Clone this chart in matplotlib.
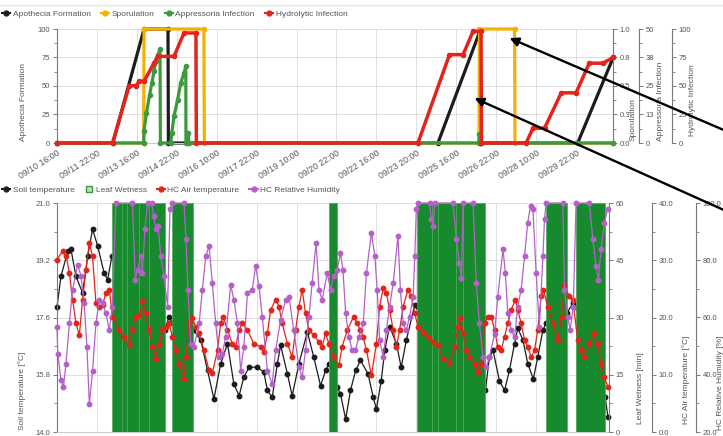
import matplotlib
matplotlib.use('Agg')
import matplotlib.pyplot as plt
from matplotlib.lines import Line2D
from matplotlib.patches import FancyArrowPatch
from matplotlib.ticker import MultipleLocator

plt.rcParams['font.family'] = ['Liberation Sans', 'DejaVu Sans']

# ---------------- data ----------------
time_labels = ['09/10 16:00', '09/11 22:00', '09/13 16:00', '09/14 22:00', '09/16 10:00',
               '09/17 22:00', '09/19 10:00', '09/20 22:00', '09/22 16:00', '09/23 20:00',
               '09/25 16:00', '09/26 22:00', '09/28 10:00', '09/29 22:00']

# top panel (x in tick intervals)
apo_t = [0.0, 1.40, 2.18, 2.78, 2.79, 9.54, 10.58, 10.63, 13.04, 13.93]
apo_v = [0, 0, 100, 100, 0, 0, 97, 0, 0, 75]

spor_t = [0.0, 2.17, 2.18, 3.68, 3.69, 10.57, 10.58, 11.46, 11.47, 13.93]
spor_v = [0, 0, 1, 1, 0, 0, 1, 1, 0, 0]

app_t = [0.0, 2.17, 2.18, 2.24, 2.32, 2.375, 2.43, 2.475, 2.53, 2.58, 2.59, 2.85, 2.875,
         2.93, 3.02, 3.1, 3.18, 3.225, 3.23, 3.28, 3.29, 3.30, 10.56, 10.58, 10.60, 13.93]
app_v = [0, 0, 5.4, 13.2, 21.2, 26.3, 31.4, 35.8, 38.7, 41.2, 0, 0, 4.4,
         11.7, 19.0, 26.3, 30.7, 33.6, 0, 0, 4.4, 0, 0, 4, 0, 0]

hyd_t = [0.0, 1.39, 1.81, 1.98, 2.06, 2.18, 2.43, 2.52, 2.93, 3.18, 3.48, 3.49, 9.04,
         9.83, 10.17, 10.42, 10.62, 10.63, 11.75, 11.92, 12.21, 12.63, 13.0, 13.33, 13.67, 13.93]
hyd_v = [0, 0, 50.3, 50.3, 54.1, 54.1, 70.2, 76.0, 76.0, 96.5, 96.5, 0, 0,
         77.5, 77.5, 98, 98, 0, 0, 13, 13, 44, 44, 70, 70, 75]

spor_ticks = ['0.0', '0.3', '0.5', '0.8', '1.0']
app_ticks = ['0', '13', '25', '38', '50']
pct_ticks = ['0', '25', '50', '75', '100']

# bottom panel
soil_t = [0.0, 0.10, 0.27, 0.35, 0.475, 0.64, 0.77, 0.89, 1.02, 1.18, 1.27, 1.375,
          2.7, 2.81, 2.89,
          3.41, 3.6, 3.77, 3.93, 4.1, 4.27, 4.43, 4.56, 4.68, 4.81,
          5.02, 5.18, 5.27, 5.39, 5.52, 5.6, 5.77, 5.89, 6.06, 6.27,
          6.43, 6.6, 6.73, 6.81, 7.02, 7.1, 7.23, 7.35, 7.48, 7.6,
          7.79, 7.92, 8.0, 8.12, 8.21, 8.33, 8.5, 8.62, 8.75, 8.96, 9.03,
          10.73, 10.83, 10.92, 11.08, 11.21, 11.33, 11.46, 11.54, 11.67, 11.79,
          11.93, 12.04, 12.17, 12.25,
          12.77, 12.92, 13.0,
          13.73, 13.8]
soil_v = [17.83, 18.76, 19.53, 19.58, 18.76, 18.25, 19.38, 20.20, 19.68, 18.86, 18.66, 19.38,
          17.12, 17.53, 17.32,
          17.12, 16.81, 15.88, 15.01, 16.09, 16.70, 15.47, 15.11, 15.68, 15.98,
          15.98, 15.83, 15.27, 15.06, 16.09, 16.65, 15.78, 15.11, 16.09, 17.06,
          16.29, 15.42, 15.88, 16.09, 15.37, 15.16, 14.39, 15.27, 15.88, 16.19,
          15.78, 15.06, 14.70, 15.57, 16.50, 17.22, 16.70, 15.98, 16.81, 17.89, 17.83,
          15.27, 16.29, 16.50, 15.57, 15.27, 15.88, 16.70, 17.17, 16.81, 16.09,
          15.62, 16.29, 17.12, 17.32,
          17.63, 17.94, 17.83,
          15.06, 14.45]

air_t = [0.0, 0.14, 0.23, 0.31, 0.39, 0.475, 0.56, 0.64, 0.725, 0.81,
         0.89, 0.975, 1.06, 1.14, 1.225, 1.31, 1.39, 1.56, 1.68, 1.81,
         1.89, 1.975, 2.06, 2.14, 2.225, 2.31, 2.39, 2.475, 2.56, 2.64,
         2.725, 2.81, 2.89, 2.975, 3.06, 3.17, 3.225, 3.31, 3.39, 3.475,
         3.56, 3.68, 3.81, 3.89, 4.02, 4.1, 4.16, 4.27, 4.39, 4.475,
         4.56, 4.64, 4.77, 4.93, 5.1, 5.18, 5.27, 5.35, 5.475, 5.56,
         5.64, 5.77, 5.89, 5.975, 6.06, 6.14, 6.225, 6.31, 6.43, 6.56,
         6.64, 6.725, 6.81, 6.93, 7.06, 7.14, 7.27, 7.43, 7.52, 7.6,
         7.67, 7.75, 7.875, 8.0, 8.08, 8.17, 8.25, 8.33, 8.42, 8.5,
         8.58, 8.67, 8.79, 8.875, 8.96, 9.04, 9.17, 9.29, 9.42, 9.54,
         9.67, 9.83, 9.96, 10.04, 10.1, 10.17, 10.25, 10.33, 10.46, 10.54,
         10.625, 10.71, 10.79, 10.875, 10.96, 11.04, 11.125, 11.21, 11.29, 11.375,
         11.48, 11.54, 11.625, 11.71, 11.79, 11.875, 11.96, 12.04, 12.125, 12.18,
         12.29, 12.42, 12.54, 12.64, 12.71, 12.83, 12.92, 13.04, 13.125, 13.21,
         13.33, 13.44, 13.54, 13.625, 13.71, 13.8]
air_v = [30.13, 31.6, 30.72, 27.79, 23.09, 18.98, 16.92, 23.09, 28.37, 33.07,
         30.72, 22.5, 21.91, 22.2, 24.26, 24.85, 20.15, 17.8, 16.63, 15.16,
         17.8, 20.15, 20.45, 22.8, 20.74, 17.8, 14.87, 12.81, 15.45, 17.8,
         18.39, 18.98, 16.63, 14.28, 11.93, 9.29, 13.1, 18.98, 19.86, 18.39,
         17.22, 14.28, 10.76, 10.29, 14.28, 18.98, 20.15, 17.8, 15.45, 14.87,
         17.8, 18.98, 17.8, 15.45, 14.87, 13.99, 17.22, 21.33, 23.09, 21.91,
         18.98, 15.45, 13.1, 17.8, 21.91, 24.85, 20.74, 17.8, 16.92, 15.75,
         14.87, 17.22, 15.45, 13.1, 11.64, 14.87, 17.8, 20.15, 18.98, 17.8,
         16.63, 14.28, 9.88, 15.45, 21.91, 25.14, 24.26, 21.33, 17.8, 14.87,
         17.8, 21.91, 24.85, 23.68, 20.74, 18.39, 17.51, 16.63, 15.75, 15.16,
         12.81, 12.05, 14.87, 18.39, 19.86, 17.22, 14.28, 13.1, 11.93, 10.46,
         11.93, 18.98, 20.15, 20.15, 17.8, 14.87, 14.28, 16.63, 18.98, 21.33,
         23.09, 21.33, 18.98, 16.04, 14.87, 13.1, 14.28, 17.8, 23.68, 24.85,
         21.91, 18.98, 16.04, 20.15, 25.73, 23.68, 23.09, 16.04, 14.28, 13.1,
         15.45, 17.22, 15.45, 11.93, 9.58, 7.82]

rh_t = [0.0, 0.02, 0.1, 0.16, 0.225, 0.31, 0.39, 0.52, 0.6, 0.68,
        0.75, 0.81, 0.89, 0.975, 1.06, 1.14, 1.225, 1.31, 1.39, 1.475,
        1.89, 1.96, 2.02, 2.1, 2.14, 2.2, 2.27, 2.37, 2.42, 2.475,
        2.53, 2.6, 2.68, 2.77, 2.83, 2.89, 3.18, 3.23, 3.28, 3.35,
        3.43, 3.56, 3.64, 3.725, 3.81, 3.89, 3.975, 4.06, 4.14, 4.225,
        4.35, 4.43, 4.52, 4.6, 4.68, 4.77, 4.89, 4.975, 5.06, 5.14,
        5.27, 5.39, 5.475, 5.6, 5.725, 5.81, 5.93, 6.06, 6.14, 6.225,
        6.31, 6.39, 6.49, 6.56, 6.64, 6.77, 6.85, 6.93, 7.02, 7.1,
        7.16, 7.23, 7.31, 7.39, 7.475, 7.56, 7.67, 7.75, 7.875, 7.96,
        8.02, 8.08, 8.17, 8.25, 8.33, 8.42, 8.54, 8.6, 8.67, 8.75,
        8.83, 8.92, 8.96, 9.0, 9.04, 9.33, 9.375, 9.42, 9.46, 9.92,
        10.0, 10.08, 10.13, 10.17, 10.42, 10.5, 10.58, 10.67, 10.75, 10.83,
        10.96, 11.04, 11.17, 11.23, 11.29, 11.375, 11.46, 11.54, 11.625, 11.71,
        11.79, 11.86, 11.92, 12.0, 12.08, 12.17, 12.21, 12.25, 12.67, 12.71,
        12.79, 12.85, 12.93, 13.0, 13.33, 13.42, 13.5, 13.56, 13.625, 13.71,
        13.79]
rh_v = [56.76, 47.4, 38.0, 35.6, 43.83, 57.93, 69.68, 78.5, 74.38, 64.98,
        49.7, 29.73, 41.48, 57.93, 66.16, 64.98, 61.46, 55.58, 63.81, 100,
        100, 73.2, 76.7, 81.4, 75.56, 90.83, 100, 100, 95.5, 90.83,
        92.0, 81.4, 74.38, 63.81, 97.88, 100, 100, 87.3, 69.7, 50.9,
        49.7, 57.93, 69.68, 81.43, 84.96, 72.03, 57.93, 46.18, 47.35, 53.23,
        71.45, 66.16, 57.93, 41.48, 49.7, 68.5, 69.68, 77.9, 70.86, 60.28,
        41.48, 36.78, 48.53, 59.11, 66.16, 67.33, 55.58, 42.66, 39.13, 48.53,
        60.28, 72.03, 86.13, 69.68, 66.16, 75.56, 69.68, 74.38, 76.73, 82.6,
        76.73, 61.46, 53.23, 48.53, 48.53, 53.23, 57.93, 75.56, 89.66, 81.43,
        69.68, 52.06, 46.18, 55.58, 63.81, 72.03, 88.48, 69.68, 57.93, 55.58,
        60.28, 67.33, 81.43, 97.88, 100, 100, 94.36, 92.0, 100, 100,
        87.3, 79.08, 73.8, 100, 100, 72.03, 57.93, 46.18, 42.66, 46.18,
        54.41, 67.33, 83.78, 75.56, 61.46, 55.58, 53.23, 63.81, 69.68, 81.43,
        93.18, 99.06, 97.88, 75.56, 56.76, 81.43, 94.36, 100, 100, 69.68,
        60.28, 55.58, 63.81, 100, 100, 87.3, 77.9, 73.2, 83.78, 93.18,
        97.88]

wet_start = [1.375, 1.64, 1.75, 2.06, 2.31, 2.89, 6.81, 9.025, 9.38, 9.54, 10.0, 10.17, 12.25, 13.0]
wet_end = [1.64, 1.75, 2.06, 2.31, 2.7, 3.41, 7.02, 9.38, 9.54, 10.0, 10.17, 10.73, 12.77, 13.73]
wet_minutes = [60, 60, 60, 60, 60, 60, 60, 60, 60, 60, 60, 60, 60, 60]

soil_ticks = ['14.0', '15.8', '17.6', '19.2', '21.0']
wet_ticks = ['0', '15', '30', '45', '60']
air_ticks = ['0.0', '10.0', '20.0', '30.0', '40.0']
rh_ticks = ['20.0', '40.0', '60.0', '80.0', '100.0']

# ---------------- figure ----------------
W, H = 723, 436
fig = plt.figure(figsize=(W / 100, H / 100), dpi=100)
fig.patch.set_facecolor('white')
PT = 72 / 100

C_BLACK = '#1c1c1c'
C_ORANGE = '#f5b000'
C_GREEN = '#3c9a3c'
C_RED = '#e4231b'
C_PURPLE = '#b55fc9'
C_WET = '#178a2d'
C_AX = '#7a7a7a'
C_TXT = '#555555'


def rect(l, t, r, b):
    return [l / W, 1 - b / H, (r - l) / W, (b - t) / H]


def style_main(a):
    for s in ['top', 'right']:
        a.spines[s].set_visible(False)
    a.spines['left'].set_color(C_AX)
    a.spines['left'].set_linewidth(0.8)
    a.spines['bottom'].set_color('#cccccc')
    a.grid(True, color='#dedede', lw=0.7)
    a.set_axisbelow(True)
    a.tick_params(axis='y', which='major', length=3, width=0.7, color=C_AX,
                  labelsize=5.5, labelcolor=C_TXT, pad=2)
    a.tick_params(axis='y', which='minor', length=2, width=0.6, color=C_AX)


def style_right(a, offset_px):
    for s in ['left', 'top', 'bottom']:
        a.spines[s].set_visible(False)
    a.spines['right'].set_position(('outward', offset_px * PT))
    a.spines['right'].set_color(C_AX)
    a.spines['right'].set_linewidth(0.8)
    a.tick_params(axis='y', which='major', length=3, width=0.7, color=C_AX,
                  labelsize=5.5, labelcolor=C_TXT, pad=2)
    a.tick_params(axis='y', which='minor', length=2, width=0.6, color=C_AX)


def set_yt(a, lo, hi, labels):
    step = (hi - lo) / (len(labels) - 1)
    a.set_ylim(lo, hi)
    a.set_yticks([lo + i * step for i in range(len(labels))])
    a.set_yticklabels(labels)
    a.yaxis.set_minor_locator(MultipleLocator(step / 2))


TOP_LW = 2.3

# ---- top panel ----
ax = fig.add_axes(rect(57, 29, 613, 143))
style_main(ax)
ax.set_xlim(0.025, 13.925)
set_yt(ax, 0, 100, pct_ticks)
ax.set_xticks(range(len(time_labels)))
ax.set_xticklabels(time_labels, rotation=32, ha='right', rotation_mode='anchor',
                   fontsize=6.3, color=C_TXT)
ax.tick_params(axis='x', length=0, pad=4)
ax.plot(apo_t, apo_v, color=C_BLACK, lw=TOP_LW, marker='o', ms=3, clip_on=False)

t1 = ax.twinx()
style_right(t1, 0)
set_yt(t1, 0, 1, spor_ticks)
t1.plot(spor_t, spor_v, color=C_ORANGE, lw=TOP_LW, marker='o', ms=3, clip_on=False)

t2 = ax.twinx()
style_right(t2, 26)
set_yt(t2, 0, 50, app_ticks)
t2.plot(app_t, app_v, color=C_GREEN, lw=TOP_LW, marker='o', ms=3, clip_on=False)

t3 = ax.twinx()
style_right(t3, 59)
set_yt(t3, 0, 100, pct_ticks)
t3.plot(hyd_t, hyd_v, color=C_RED, lw=TOP_LW + 0.2, marker='o', ms=3, clip_on=False)

# ---- bottom panel ----
bx = fig.add_axes(rect(57, 203, 609, 432))
style_main(bx)
bx.set_xlim(0.025, 13.825)
set_yt(bx, 14, 21, soil_ticks)
bx.set_xticks(range(len(time_labels)))
bx.tick_params(axis='x', length=0, labelbottom=False)
bx.plot(soil_t, soil_v, color=C_BLACK, lw=0.9, marker='o', ms=3.2, clip_on=False)

b1 = bx.twinx()
style_right(b1, 0)
set_yt(b1, 0, 60, wet_ticks)
b1.bar(wet_start, wet_minutes, width=[e - s for s, e in zip(wet_start, wet_end)],
       align='edge', color=C_WET, edgecolor='#4aa955', lw=0.5)

b2 = bx.twinx()
style_right(b2, 43)
set_yt(b2, 0, 40, air_ticks)
b2.plot(air_t, air_v, color=C_RED, lw=0.9, marker='o', ms=3.2, clip_on=False)

b3 = bx.twinx()
style_right(b3, 87)
set_yt(b3, 20, 100, rh_ticks)
b3.plot(rh_t, rh_v, color=C_PURPLE, lw=0.9, marker='o', ms=3.2, clip_on=False)

# ---- axis titles (bottom aligned) ----
def vlabel(x_px, bottom_py, text):
    fig.text(x_px / W, 1 - bottom_py / H, text, rotation=90, ha='center', va='bottom',
             fontsize=6, color=C_TXT)

vlabel(24, 141, 'Apothecia Formation')
vlabel(633, 141, 'Sporulation')
vlabel(661, 141, 'Appressoria Infection')
vlabel(693, 136, 'Hydrolytic Infection')
vlabel(22, 430, 'Soil temperature [°C]')
vlabel(640, 424, 'Leaf Wetness [min]')
vlabel(686, 424, 'HC Air temperature [°C]')
vlabel(721, 430, 'HC Relative Humidity [%]')

# ---- legends ----
def lh(color, marker='o'):
    return Line2D([0], [0], color=color, lw=1.5, marker=marker, ms=3.5)

top_handles = [lh(C_BLACK), lh(C_ORANGE), lh(C_GREEN), lh(C_RED)]
top_names = ['Apothecia Formation', 'Sporulation', 'Appressoria Infection', 'Hydrolytic Infection']
fig.legend(top_handles, top_names, loc='center left', bbox_to_anchor=(2 / W, 1 - 14 / H),
           ncol=4, frameon=False, fontsize=6, handlelength=1.0, handletextpad=0.3,
           columnspacing=1.2, borderaxespad=0, borderpad=0, labelcolor=C_TXT)

bot_handles = [lh(C_BLACK),
               Line2D([0], [0], lw=0, marker='s', ms=5, mfc='#b9e0b0', mec=C_GREEN),
               lh(C_RED), lh(C_PURPLE)]
bot_names = ['Soil temperature', 'Leaf Wetness', 'HC Air temperature', 'HC Relative Humidity']
fig.legend(bot_handles, bot_names, loc='center left', bbox_to_anchor=(2 / W, 1 - 190 / H),
           ncol=4, frameon=False, fontsize=6, handlelength=1.0, handletextpad=0.3,
           columnspacing=1.2, borderaxespad=0, borderpad=0, labelcolor=C_TXT)

# ---- decorations ----
fig.add_artist(Line2D([0, 1], [1 - 5 / H, 1 - 5 / H], transform=fig.transFigure,
                      color='#e4e4e4', lw=1))

for tail, tip in [((726, 131), (507, 37)), ((726, 211), (472, 97))]:
    arr = FancyArrowPatch((tail[0] / 100, (H - tail[1]) / 100), (tip[0] / 100, (H - tip[1]) / 100),
                          transform=fig.dpi_scale_trans, arrowstyle='-|>', mutation_scale=13,
                          color='black', lw=1.7, zorder=10)
    fig.add_artist(arr)

fig.savefig('out.png', dpi=100, facecolor='white')
